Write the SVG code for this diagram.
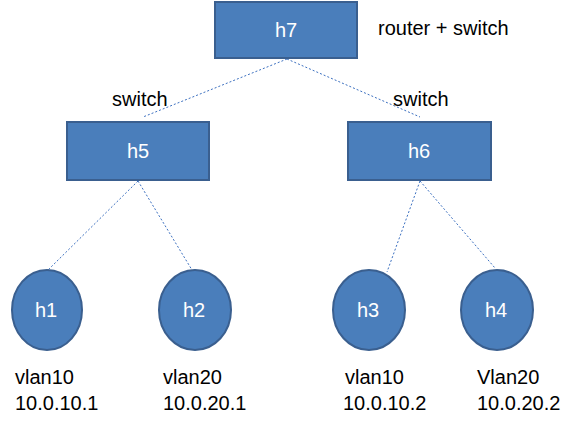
<svg xmlns="http://www.w3.org/2000/svg" width="576" height="421" viewBox="0 0 576 421">
<style>
.box{fill:#4a7ebb;stroke:#3a5f8f;stroke-width:2}
.lbl{font-family:"Liberation Sans",Arial,sans-serif;font-size:20px;fill:#ffffff;text-anchor:middle}
.txt{font-family:"Liberation Sans",Arial,sans-serif;font-size:20px;fill:#000000}
.edge{stroke:#3c70c0;stroke-width:1;stroke-dasharray:2 2;fill:none}
</style>
<rect width="576" height="421" fill="#ffffff"/>
<g id="connectors">
<line class="edge" x1="287" y1="59" x2="143" y2="117"/>
<line class="edge" x1="287" y1="59" x2="420" y2="117"/>
<line class="edge" x1="138" y1="181" x2="48" y2="270"/>
<line class="edge" x1="138" y1="181" x2="192" y2="270"/>
<line class="edge" x1="420" y1="181" x2="387" y2="272"/>
<line class="edge" x1="420" y1="181" x2="495" y2="268"/>
</g>
<g id="h7">
<rect class="box" x="215" y="2" width="142" height="56"/>
<text class="lbl" x="286" y="37">h7</text>
</g>
<g id="h5">
<rect class="box" x="67" y="122" width="142" height="58"/>
<text class="lbl" x="138" y="158">h5</text>
</g>
<g id="h6">
<rect class="box" x="348" y="122" width="143" height="58"/>
<text class="lbl" x="419" y="158">h6</text>
</g>
<g id="h1">
<ellipse class="box" cx="47" cy="310" rx="35" ry="40"/>
<text class="lbl" x="46" y="317">h1</text>
</g>
<g id="h2">
<ellipse class="box" cx="195" cy="310" rx="36" ry="40"/>
<text class="lbl" x="194" y="317">h2</text>
</g>
<g id="h3">
<ellipse class="box" cx="369" cy="310" rx="36" ry="40"/>
<text class="lbl" x="368" y="317">h3</text>
</g>
<g id="h4">
<ellipse class="box" cx="497" cy="310" rx="36" ry="40"/>
<text class="lbl" x="496" y="317">h4</text>
</g>
<g id="labels">
<text class="txt" x="378" y="35">router + switch</text>
<text class="txt" x="112" y="106">switch</text>
<text class="txt" x="393" y="106">switch</text>
<text class="txt" x="15" y="384">vlan10</text>
<text class="txt" x="15" y="410">10.0.10.1</text>
<text class="txt" x="163" y="384">vlan20</text>
<text class="txt" x="163" y="410">10.0.20.1</text>
<text class="txt" x="345" y="384">vlan10</text>
<text class="txt" x="343" y="410">10.0.10.2</text>
<text class="txt" x="477" y="384">Vlan20</text>
<text class="txt" x="477" y="410">10.0.20.2</text>
</g>
</svg>
